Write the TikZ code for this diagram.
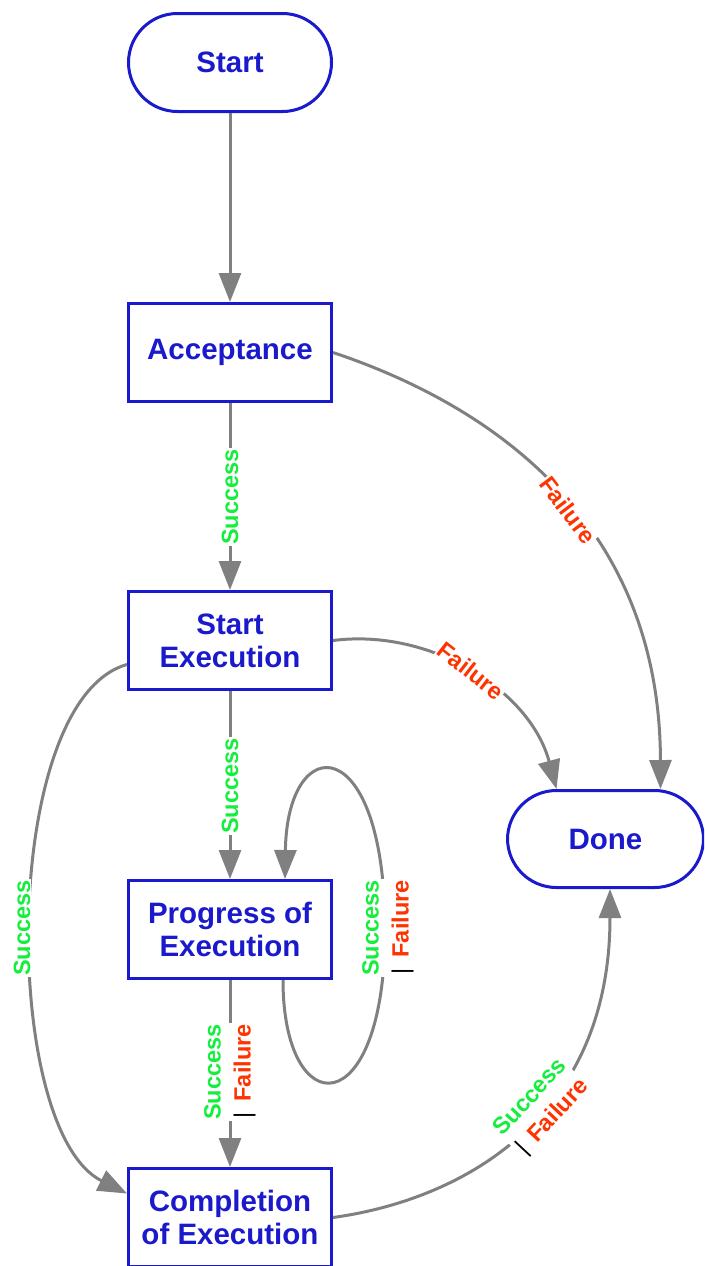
\documentclass[tikz,border=0pt]{standalone}
\usepackage{fontspec}
\setmainfont{Liberation Sans}
\usetikzlibrary{arrows.meta}

\definecolor{stateblue}{RGB}{26,26,204}
\definecolor{flowgray}{RGB}{128,128,128}
\definecolor{okgreen}{RGB}{20,238,60}
\definecolor{failred}{RGB}{255,51,0}

\newcommand\statefont{\fontsize{29.5}{33}\selectfont\bfseries}
\newcommand\condfont{\fontsize{23.5}{30}\selectfont\bfseries}

\tikzset{
  state/.style={draw=stateblue, line width=3pt, text=stateblue, font=\statefont,
    minimum width=203pt, minimum height=98pt, align=center, inner sep=0pt},
  terminal/.style={state, rounded corners=49pt},
  flow/.style={draw=flowgray, line width=3pt, -{Triangle[length=29pt,width=22pt]}},
  cond/.style={font=\condfont, fill=white, inner sep=1pt, align=right},
}

\begin{document}
\begin{tikzpicture}[x=1pt,y=-1pt]
    \useasboundingbox (0,0) rectangle (704,1266);
    \clip (0,0) rectangle (704,1266);
    % states
    \node[terminal] (start) at (230,62.5) {Start};
    \node[state] (accept) at (230,352.5) {Acceptance};
    \node[state] (startexec) at (230,640.5) {Start\\Execution};
    \node[state] (progress) at (230,929.5) {Progress of\\Execution};
    \node[state] (complete) at (230,1217.5) {Completion\\of Execution};
    \node[terminal, minimum width=196pt, minimum height=97pt] (done) at (605.5,839) {Done};
    % transitions
    \draw[flow] (start) -- (accept);
    \draw[flow] (accept) -- (startexec);
    \draw[flow] (accept.east) .. controls (490,405) and (660,520) .. ([xshift=55pt]done.north);
    \draw[flow] (startexec.east) .. controls (430,628) and (530,690) .. ([xshift=-49pt]done.north);
    \draw[flow] (startexec) -- (progress);
    \draw[flow] ([yshift=-24pt]startexec.west) .. controls (0,700) and (0,1130) .. ([yshift=24pt]complete.west);
    \draw[flow] ([xshift=53pt]progress.south) .. controls (283,1125) and (385,1125) .. (385,930)
        .. controls (385,729) and (287,729) .. ([xshift=55pt]progress.north);
    \draw[flow] (progress) -- (complete);
    \draw[flow] (complete.east) .. controls (460,1200) and (610,1120) .. ([xshift=4.5pt]done.south);
    % conditions
    \node[cond, rotate=90, text=okgreen] (acceptok) at (230,497) {Success};
    \node[cond, rotate=-53, text=failred] (acceptfail) at (568,510) {Failure};
    \node[cond, rotate=-38, text=failred] (startfail) at (471,671) {Failure};
    \node[cond, rotate=90, text=okgreen] (startok) at (230,786) {Success};
    \node[cond, rotate=90, text=okgreen] (startskip) at (22,928) {Success};
    \node[cond, rotate=90] (progloop) at (388,928)
        {\textcolor{okgreen}{Success}\\{\mdseries|}\hspace{0.45em}\textcolor{failred}{Failure}};
    \node[cond, rotate=90] (progend) at (230,1072)
        {\textcolor{okgreen}{Success}\\{\mdseries|}\hspace{0.45em}\textcolor{failred}{Failure}};
    \node[cond, rotate=47] (completeend) at (542,1108)
        {\textcolor{okgreen}{Success}\\{\mdseries|}\hspace{0.45em}\textcolor{failred}{Failure}};
\end{tikzpicture}
\end{document}
